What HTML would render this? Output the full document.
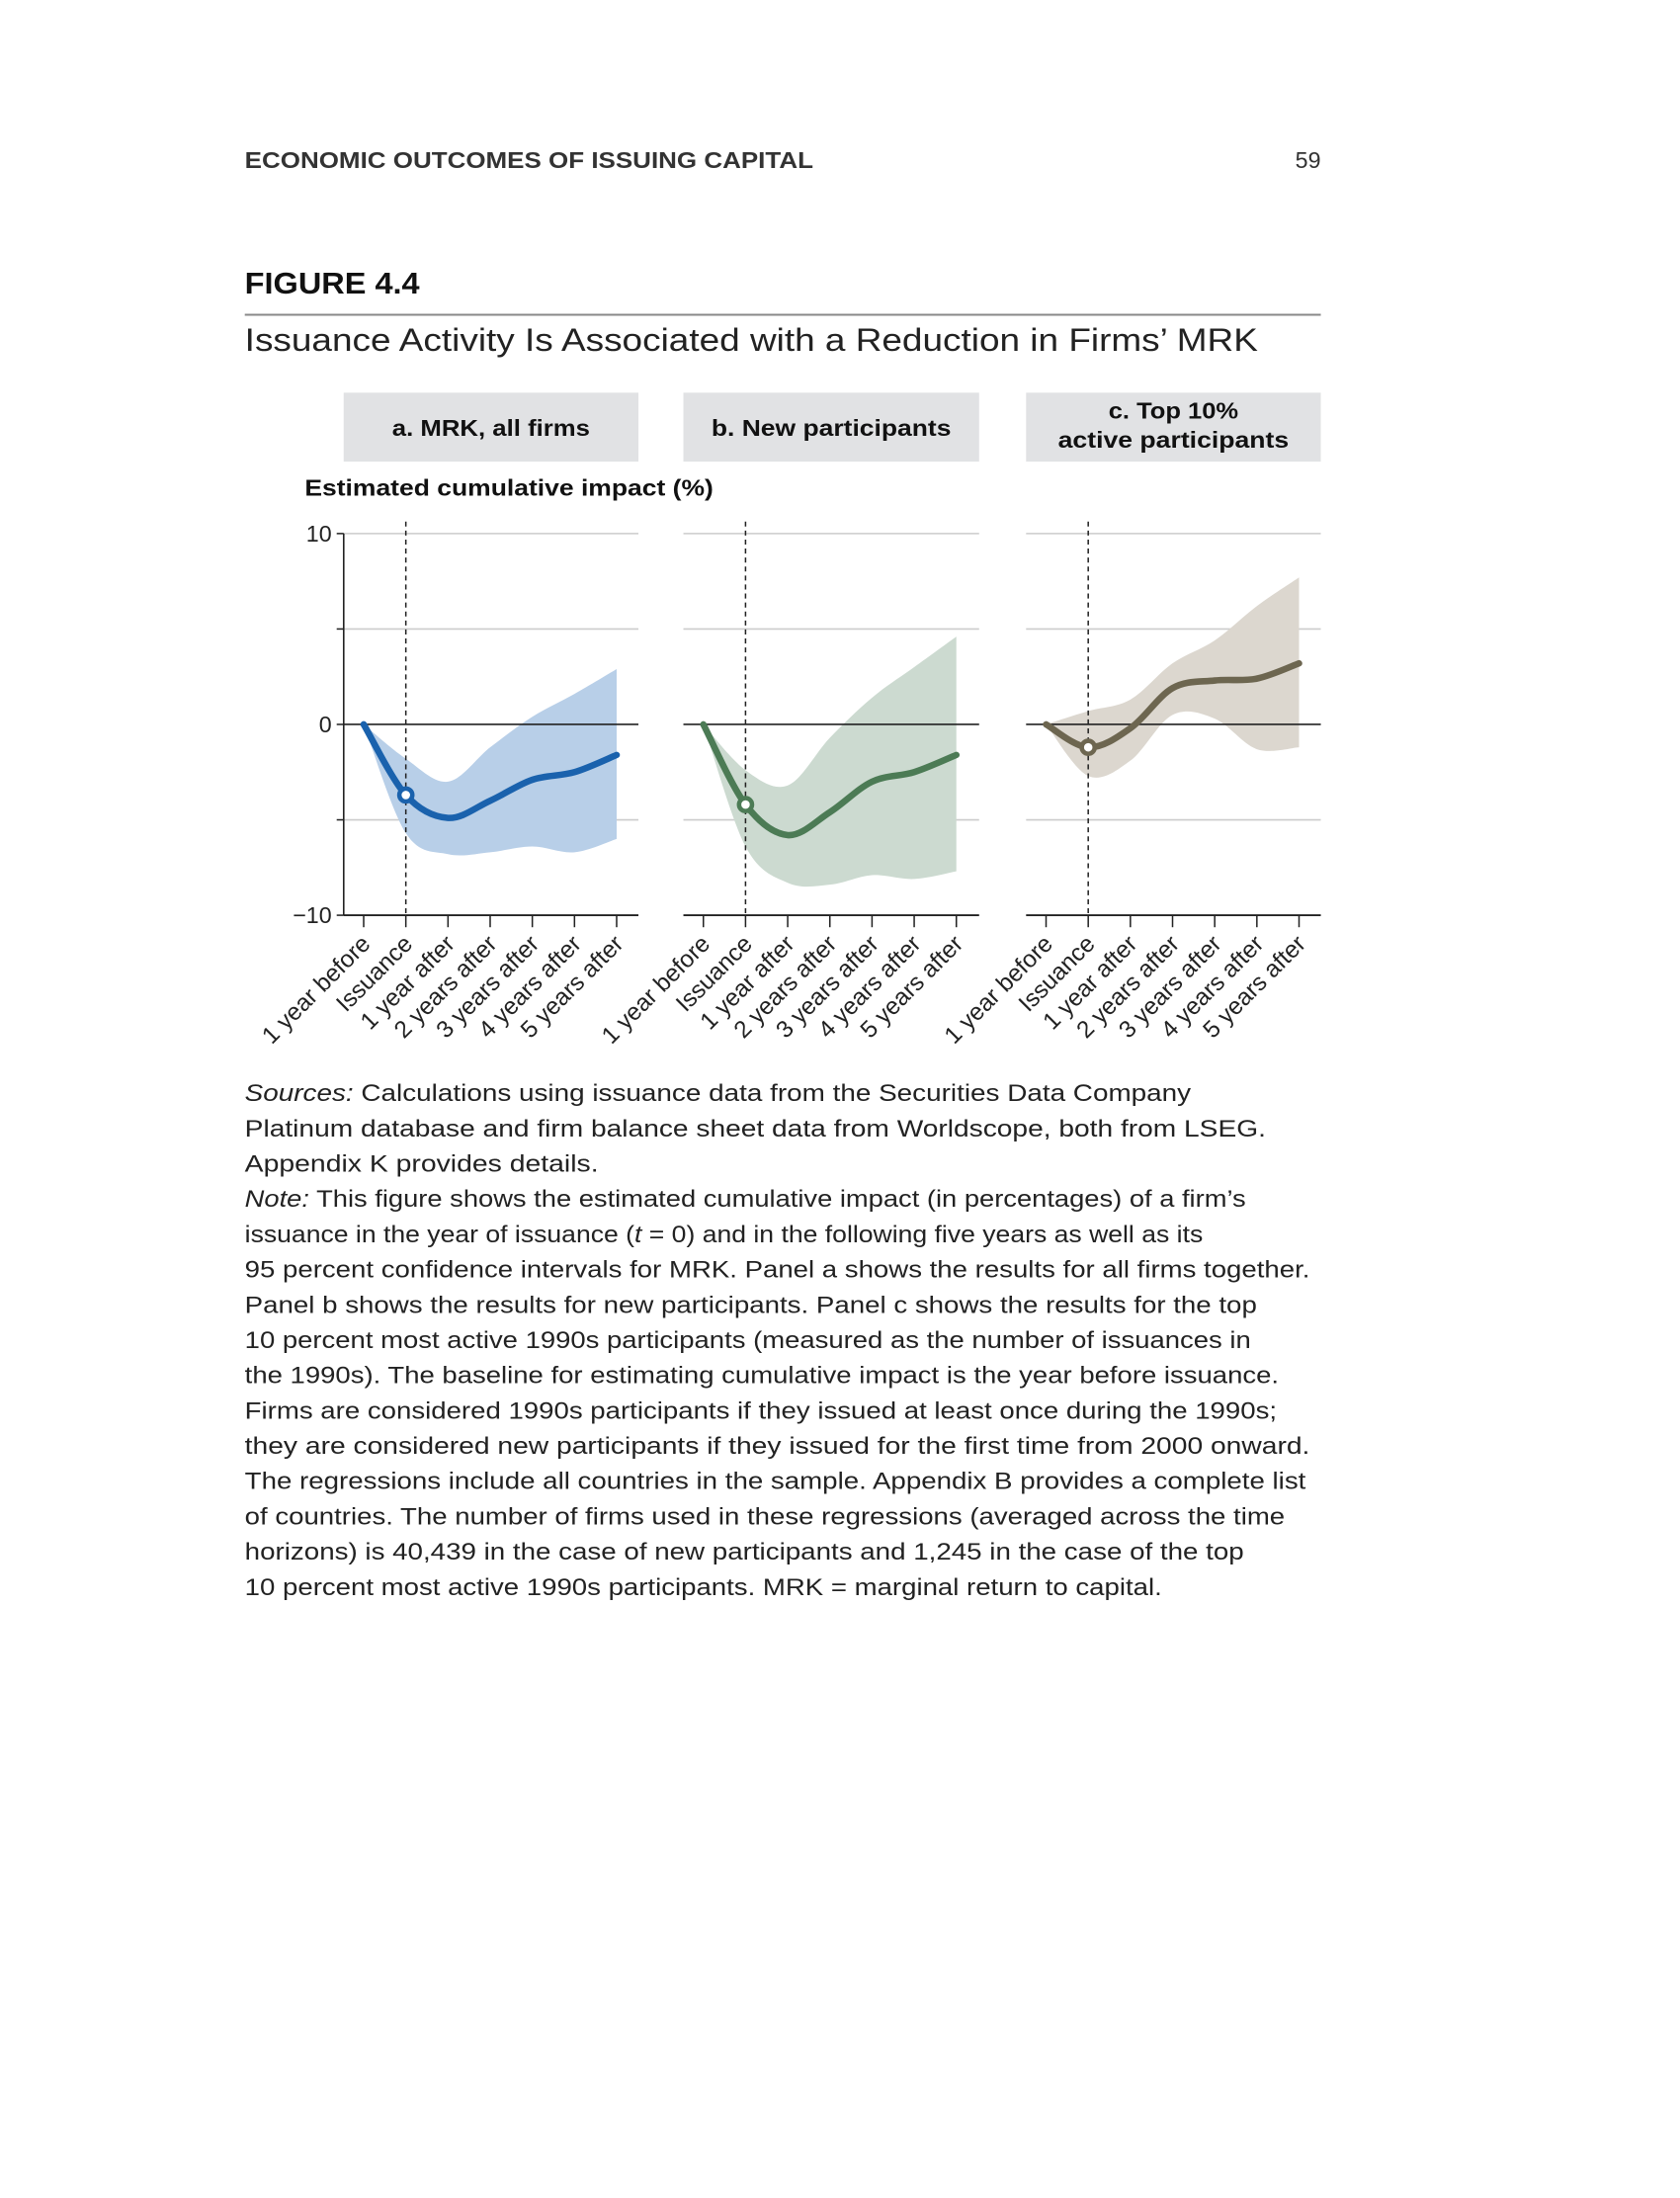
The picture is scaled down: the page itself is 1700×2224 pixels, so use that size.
<!DOCTYPE html>
<html><head><meta charset="utf-8"><style>
body{margin:0;background:#fff;overflow:hidden;}
#page{position:relative;width:1700px;height:2200px;background:#fff;font-family:"Liberation Sans",sans-serif;color:#222;transform:scale(1.011);transform-origin:0 0;}
</style></head><body>
<div id="page">
<svg id="chart" width="1700" height="2200" style="position:absolute;left:0;top:0"></svg>
</div>
<script>
const categories = ["1 year before","Issuance","1 year after","2 years after","3 years after","4 years after","5 years after"];
const yTicks = [10,0,-10];
const gridValues = [10,5,-5];
const meanA = [0,-3.7,-4.9,-4.0,-2.9,-2.5,-1.6];
const upperA = [0,-1.8,-3.0,-1.2,0.4,1.6,2.9];
const lowerA = [0,-5.7,-6.8,-6.7,-6.4,-6.7,-6.0];
const meanB = [0,-4.2,-5.8,-4.6,-3.0,-2.5,-1.6];
const upperB = [0,-2.4,-3.2,-0.7,1.4,3.0,4.6];
const lowerB = [0,-6.4,-8.3,-8.4,-7.9,-8.1,-7.7];
const meanC = [0,-1.2,-0.2,1.9,2.3,2.4,3.2];
const upperC = [0,0.7,1.3,3.2,4.4,6.2,7.7];
const lowerC = [0,-2.7,-1.9,0.5,0.3,-1.3,-1.2];
const panelTitles = [["a. MRK, all firms"],["b. New participants"],["c. Top 10%","active participants"]];

const NS="http://www.w3.org/2000/svg";
const svg=document.getElementById('chart');
function mk(tag,attrs,parent){const e=document.createElementNS(NS,tag);for(const k in attrs)e.setAttribute(k,attrs[k]);(parent||svg).appendChild(e);return e;}
function txt(s,attrs,parent){const e=mk('text',attrs,parent);e.textContent=s;return e;}

let t;
t=txt("ECONOMIC OUTCOMES OF ISSUING CAPITAL",{x:245,y:168,'font-size':23,'font-weight':'bold',fill:'#333',textLength:569,lengthAdjust:'spacingAndGlyphs'});

t=txt("59",{x:1322,y:168,'font-size':23,'text-anchor':'end',fill:'#333'});

t=txt("FIGURE 4.4",{x:245,y:294,'font-size':30,'font-weight':'bold',fill:'#111',textLength:175,lengthAdjust:'spacingAndGlyphs'});

let r=mk('line',{x1:245,x2:1322,y1:315,y2:315,stroke:'#888','stroke-width':2});

t=txt("Issuance Activity Is Associated with a Reduction in Firms’ MRK",{x:245,y:351,'font-size':32,fill:'#222',textLength:1014,lengthAdjust:'spacingAndGlyphs'});

t=txt("Estimated cumulative impact (%)",{x:305,y:496,'font-size':23,'font-weight':'bold',fill:'#111',textLength:409,lengthAdjust:'spacingAndGlyphs'});


const yScale=v=>725-v*19.1;
const panels=[
 {x0:344,x1:639,t0:364,mean:meanA,up:upperA,lo:lowerA,line:'#1a62ad',band:'#b8cfe8',name:'a',tw:[198]},
 {x0:684,x1:980,t0:704,mean:meanB,up:upperB,lo:lowerB,line:'#4c7b55',band:'#ccdad0',name:'b',tw:[240]},
 {x0:1027,x1:1322,t0:1047,mean:meanC,up:upperC,lo:lowerC,line:'#6d6650',band:'#dcd7cf',name:'c',tw:[130,231]}];
const step=42.2;

function smooth(pts){let d=`M${pts[0][0]},${pts[0][1]}`;for(let i=0;i<pts.length-1;i++){const p0=pts[i-1]||pts[i],p1=pts[i],p2=pts[i+1],p3=pts[i+2]||p2;const c1=[p1[0]+(p2[0]-p0[0])/6,p1[1]+(p2[1]-p0[1])/6],c2=[p2[0]-(p3[0]-p1[0])/6,p2[1]-(p3[1]-p1[1])/6];d+=` C${c1[0]},${c1[1]} ${c2[0]},${c2[1]} ${p2[0]},${p2[1]}`;}return d;}

panels.forEach((p,pi)=>{
  const g=mk('g',{});
  
  
  const xs=i=>p.t0+i*step;
  const hb=mk('rect',{x:p.x0,y:393,width:p.x1-p.x0,height:69,fill:'#e1e2e4'},g);
  
  
  const lines=panelTitles[pi];const cx=(p.x0+p.x1)/2;
  lines.forEach((s,li)=>{const ty=lines.length==1?436:419+li*29;const e=txt(s,{x:cx,y:ty,'font-size':23,'font-weight':'bold','text-anchor':'middle',fill:'#111',textLength:p.tw[li],lengthAdjust:'spacingAndGlyphs'},g);
    
    });
  gridValues.forEach(v=>{const l=mk('line',{x1:p.x0,x2:p.x1,y1:yScale(v),y2:yScale(v),stroke:'#ccc','stroke-width':1.6},g);
    
    });
  const upPts=p.up.map((v,i)=>[xs(i),yScale(v)]);
  const loPts=p.lo.map((v,i)=>[xs(i),yScale(v)]).reverse();
  let d=smooth(upPts)+' L'+smooth(loPts).slice(1)+' Z';
  const band=mk('path',{d:d,fill:p.band},g);
  
  
  const z=mk('line',{x1:p.x0,x2:p.x1,y1:yScale(0),y2:yScale(0),stroke:'#222','stroke-width':1.6},g);
  
  const b=mk('line',{x1:p.x0,x2:p.x1,y1:yScale(-10),y2:yScale(-10),stroke:'#222','stroke-width':1.8},g);
  
  const dl=mk('line',{x1:xs(1),x2:xs(1),y1:522,y2:yScale(-10),stroke:'#222','stroke-width':1.5,'stroke-dasharray':'5,4'},g);
  
  categories.forEach((c,i)=>{
    const tk=mk('line',{x1:xs(i),x2:xs(i),y1:yScale(-10),y2:yScale(-10)+12,stroke:'#222','stroke-width':1.5},g);
    
    const lb=txt(c,{x:0,y:0,'font-size':24,'text-anchor':'end',fill:'#222',transform:`translate(${xs(i)+8},${yScale(-10)+30}) rotate(-45)`},g);
    
  });
  const ml=mk('path',{d:smooth(p.mean.map((v,i)=>[xs(i),yScale(v)])),fill:'none',stroke:p.line,'stroke-width':6.5,'stroke-linecap':'round'},g);
  
  const dot=mk('circle',{cx:xs(1),cy:yScale(p.mean[1]),r:6.5,fill:'#fff',stroke:p.line,'stroke-width':4.5},g);
  
});
const ya=mk('line',{x1:344,x2:344,y1:yScale(10),y2:yScale(-10),stroke:'#222','stroke-width':1.6});

[10,5,0,-5,-10].forEach(v=>{const tk=mk('line',{x1:337,x2:344,y1:yScale(v),y2:yScale(v),stroke:'#222','stroke-width':1.5});
  });
yTicks.forEach(v=>{const lb=txt(v<0?'−'+Math.abs(v):String(v),{x:332,y:yScale(v)+8,'font-size':23,'text-anchor':'end',fill:'#222'});
  });

// note text lines
const noteLines=[
 [["Sources:",1]," Calculations using issuance data from the Securities Data Company",947],
 ["Platinum database and firm balance sheet data from Worldscope, both from LSEG.",1022],
 ["Appendix K provides details.",354],
 [["Note:",1]," This figure shows the estimated cumulative impact (in percentages) of a firm’s",1002],
 ["issuance in the year of issuance (",["t",1]," = 0) and in the following five years as well as its",959],
 ["95 percent confidence intervals for MRK. Panel a shows the results for all firms together.",1066],
 ["Panel b shows the results for new participants. Panel c shows the results for the top",1013],
 ["10 percent most active 1990s participants (measured as the number of issuances in",1007],
 ["the 1990s). The baseline for estimating cumulative impact is the year before issuance.",1035],
 ["Firms are considered 1990s participants if they issued at least once during the 1990s;",1033],
 ["they are considered new participants if they issued for the first time from 2000 onward.",1066],
 ["The regressions include all countries in the sample. Appendix B provides a complete list",1062],
 ["of countries. The number of firms used in these regressions (averaged across the time",1041],
 ["horizons) is 40,439 in the case of new participants and 1,245 in the case of the top",1000],
 ["10 percent most active 1990s participants. MRK = marginal return to capital.",918]];
const ng=mk('g',{});


noteLines.forEach((ln,i)=>{
  const w=ln[ln.length-1];
  const te=mk('text',{x:245,y:1102+i*35.3,'font-size':23.5,fill:'#222',textLength:w,lengthAdjust:'spacingAndGlyphs'},ng);
  
  
  ln.slice(0,-1).forEach(part=>{
    const ts=document.createElementNS(NS,'tspan');
    if(Array.isArray(part)){ts.textContent=part[0];ts.setAttribute('font-style','italic');}
    else ts.textContent=part;
    te.appendChild(ts);
  });
});
</script>
</body></html>
